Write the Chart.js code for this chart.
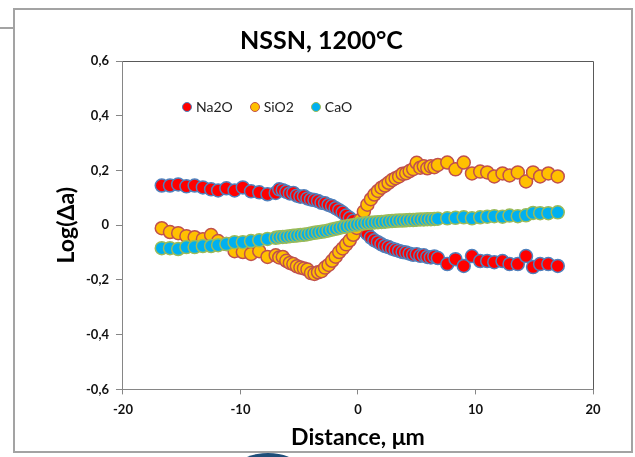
<!DOCTYPE html>
<html>
<head>
<meta charset="utf-8">
<script src="https://cdn.jsdelivr.net/npm/chart.js@4.4.0/dist/chart.umd.min.js"></script>
<style>
  html, body { margin: 0; padding: 0; background: #fff; }
  body { width: 635px; height: 457px; position: relative; overflow: hidden; font-family: Lato, sans-serif; }
  #frame { position: absolute; left: 13px; top: 8px; width: 616px; height: 441px; border: 2px solid #a3a3a3; }
  #sideLine { position: absolute; left: 0; top: 27px; width: 13px; height: 2px; background: #a3a3a3; }
  #blob { position: absolute; left: 240px; top: 453px; width: 56px; height: 24px; border-radius: 50%; background: #1f4e79; }
  #chart { position: absolute; left: 0; top: 0; }
  #legend { position: absolute; left: 182px; top: 98px; display: flex; gap: 17px; font: 14px Lato, sans-serif; color: #222; }
  #legend .item { display: flex; align-items: center; }
  #legend .dot { width: 8px; height: 8px; border-radius: 50%; margin-right: 4px; border: 1px solid; }
</style>
</head>
<body>
<div id="sideLine"></div>
<div id="frame"></div>
<div id="blob"></div>
<canvas id="chart" width="635" height="457"></canvas>
<div id="legend"></div>
<script>
// distance (µm) for every measured point
const distance = [
  -16.7, -16.0, -15.3, -14.6, -13.9, -13.2, -12.5, -11.9, -11.2, -10.5, -9.8, -9.1, -8.4, -7.7,
  -7.0, -6.7, -6.4, -6.1, -5.8, -5.5, -5.2, -4.9, -4.6, -4.3,
  -4.0, -3.7, -3.4, -3.1, -2.8, -2.5, -2.2, -1.9, -1.6, -1.3,
  -1.0, -0.7, -0.4, -0.1, 0.2, 0.5, 0.8, 1.1, 1.4, 1.7,
  2.0, 2.3, 2.6, 2.9, 3.2, 3.5, 3.8, 4.1, 4.4, 4.7,
  5.0, 5.3, 5.6, 5.9, 6.2, 6.5, 6.8,
  7.6, 8.3, 9.0, 9.7, 10.4, 11.0, 11.6, 12.3, 12.9, 13.6, 14.3, 14.9, 15.5, 16.2, 17.0
];

const na2o = [
  0.145, 0.145, 0.149, 0.142, 0.145, 0.138, 0.131, 0.127, 0.135, 0.127, 0.138, 0.124, 0.120, 0.113,
  0.118, 0.131, 0.128, 0.122, 0.116, 0.118, 0.108, 0.104, 0.106, 0.098,
  0.094, 0.092, 0.088, 0.082, 0.080, 0.074, 0.070, 0.062, 0.055, 0.046,
  0.035, 0.026, 0.016, 0.005, -0.008, -0.020, -0.032, -0.045, -0.055, -0.062,
  -0.070, -0.076, -0.080, -0.086, -0.090, -0.094, -0.098, -0.100, -0.104, -0.108,
  -0.106, -0.112, -0.110, -0.116, -0.118, -0.114, -0.120,
  -0.142, -0.124, -0.149, -0.113, -0.131, -0.131, -0.135, -0.131, -0.142, -0.142, -0.113, -0.153, -0.142, -0.142, -0.149
];

const sio2 = [
  -0.011, -0.025, -0.029, -0.040, -0.044, -0.051, -0.036, -0.058, -0.069, -0.095, -0.098, -0.105, -0.095, -0.116,
  -0.110, -0.118, -0.116, -0.130, -0.138, -0.142, -0.150, -0.155, -0.158, -0.162,
  -0.175, -0.178, -0.172, -0.168, -0.155, -0.145, -0.130, -0.115, -0.098, -0.085,
  -0.070, -0.055, -0.035, -0.010, 0.020, 0.050, 0.075, 0.095, 0.112, 0.125,
  0.137, 0.145, 0.155, 0.165, 0.172, 0.178, 0.188, 0.190, 0.198, 0.205,
  0.228, 0.210, 0.215, 0.208, 0.215, 0.212, 0.220,
  0.229, 0.204, 0.229, 0.189, 0.196, 0.193, 0.178, 0.189, 0.182, 0.193, 0.160, 0.193, 0.178, 0.189, 0.178
];

const cao = [
  -0.084, -0.084, -0.087, -0.080, -0.080, -0.076, -0.076, -0.073, -0.069, -0.062, -0.062, -0.058, -0.055, -0.050,
  -0.046, -0.044, -0.043, -0.042, -0.040, -0.039, -0.038, -0.036, -0.035, -0.033,
  -0.030, -0.028, -0.026, -0.024, -0.022, -0.019, -0.016, -0.013, -0.010, -0.007,
  -0.005, -0.002, 0.000, 0.002, 0.004, 0.006, 0.008, 0.009, 0.010, 0.011,
  0.012, 0.013, 0.014, 0.015, 0.016, 0.017, 0.017, 0.018, 0.019, 0.019,
  0.020, 0.021, 0.021, 0.022, 0.022, 0.023, 0.024,
  0.025, 0.027, 0.029, 0.025, 0.029, 0.031, 0.033, 0.031, 0.035, 0.033, 0.036, 0.045, 0.044, 0.044, 0.047
];

const seriesNames = ["Na2O", "SiO2", "CaO"];
const fills = ["#ff0000", "#ffc000", "#00b0f0"];
const borders = ["#4f81bd", "#c0504d", "#9bbb59"];
const values = [na2o, sio2, cao];

const toPoints = ys => distance.map((x, i) => ({ x, y: ys[i] }));

// top + right edge of the plot area (Excel style box)
const plotBox = {
  id: "plotBox",
  beforeDatasetsDraw(chart) {
    const { ctx, chartArea: a } = chart;
    ctx.save();
    ctx.strokeStyle = "#595959";
    ctx.lineWidth = 1;
    ctx.beginPath();
    ctx.moveTo(a.left, a.top + 0.5);
    ctx.lineTo(a.right + 0.5, a.top + 0.5);
    ctx.lineTo(a.right + 0.5, a.bottom);
    ctx.stroke();
    ctx.restore();
  }
};

const htmlLegend = {
  id: "htmlLegend",
  afterUpdate(chart) {
    const box = document.getElementById("legend");
    box.innerHTML = "";
    chart.data.datasets.forEach(ds => {
      const item = document.createElement("div");
      item.className = "item";
      const dot = document.createElement("span");
      dot.className = "dot";
      dot.style.background = ds.backgroundColor;
      dot.style.borderColor = ds.borderColor;
      const txt = document.createElement("span");
      txt.textContent = ds.label;
      item.appendChild(dot);
      item.appendChild(txt);
      box.appendChild(item);
    });
  }
};

new Chart(document.getElementById("chart").getContext("2d"), {
  type: "scatter",
  data: {
    datasets: seriesNames.map((name, i) => ({
      label: name,
      data: toPoints(values[i]),
      backgroundColor: fills[i],
      borderColor: borders[i],
      pointRadius: 6.5,
      pointBorderWidth: 1.5,
      order: 3 - i
    }))
  },
  options: {
    responsive: false,
    animation: false,
    layout: { padding: { top: 20, left: 50, right: 42, bottom: 8 } },
    plugins: {
      legend: { display: false },
      tooltip: { enabled: false },
      title: {
        display: true,
        text: "NSSN, 1200°C",
        color: "#000",
        font: { family: "Lato", size: 25, weight: "bold" },
        padding: { top: 6, bottom: 5 }
      }
    },
    scales: {
      x: {
        type: "linear",
        min: -20,
        max: 20,
        ticks: { stepSize: 10, color: "#111", padding: 8, font: { family: "Lato", size: 13, weight: "bold" } },
        grid: { drawOnChartArea: false, drawTicks: true, tickLength: 5, color: "#868686" },
        border: { color: "#868686" },
        title: {
          display: true,
          text: "Distance, μm",
          color: "#000",
          font: { family: "Lato", size: 23, weight: "bold", lineHeight: 1 },
          padding: { top: 0, bottom: 0 }
        }
      },
      y: {
        min: -0.6,
        max: 0.6,
        ticks: {
          stepSize: 0.2,
          color: "#111",
          padding: 7,
          font: { family: "Lato", size: 13, weight: "bold" },
          callback: v => Math.abs(v) < 1e-9 ? "0" : v.toFixed(1).replace(".", ",")
        },
        grid: { drawOnChartArea: false, drawTicks: true, tickLength: 7, color: "#868686" },
        border: { color: "#868686" },
        title: {
          display: true,
          text: "Log(Δa)",
          color: "#000",
          font: { family: "Lato", size: 23, weight: "bold", lineHeight: 1 },
          padding: { top: 5, bottom: 1 }
        }
      }
    }
  },
  plugins: [plotBox, htmlLegend]
});
</script>
</body>
</html>
